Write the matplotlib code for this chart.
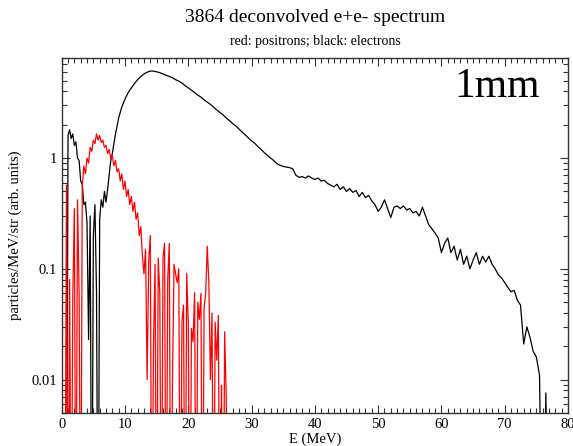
import numpy as np
import matplotlib
matplotlib.use("Agg")
import matplotlib.pyplot as plt
from matplotlib.ticker import MultipleLocator, LogLocator, NullFormatter

plt.rcParams['font.family'] = ['Liberation Serif', 'DejaVu Serif']

# --- data (0 = at/below zero, drawn off the bottom) ---
# electrons, fine bins 0.75 .. 8.75 MeV
e_low_E = np.arange(0.75, 8.76, 0.25)
e_low = [0.0, 1.6, 1.8, 1.5, 1.65, 1.3, 1.4, 1.0, 0.95, 0.62,
         0.58, 0.38, 0.40, 0.26, 0.023, 0.30, 0.0, 0.20, 0.38, 0.061,
         0.0, 0.28, 0.42, 0.36, 0.50, 0.40, 0.52, 0.70, 0.95, 1.10,
         1.35, 1.65, 1.95]
# electrons, 0.5 MeV bins 9 .. 77 MeV
e_high_E = np.arange(9.0, 77.01, 0.5)
e_high = [2.3, 2.9, 3.4, 3.9, 4.3, 4.7, 5.1, 5.45, 5.75, 5.95,
          6.1, 6.1, 6.0, 5.9, 5.75, 5.6, 5.45, 5.3, 5.1, 4.95,
          4.75, 4.5, 4.3, 4.1, 3.9, 3.7, 3.55, 3.35, 3.2, 3.05,
          2.88, 2.72, 2.58, 2.45, 2.3, 2.18, 2.05, 1.95, 1.83, 1.72,
          1.62, 1.52, 1.43, 1.36, 1.27, 1.20, 1.12, 1.06, 1.00, 0.95,
          0.89, 0.86, 0.84, 0.83, 0.82, 0.80, 0.70, 0.67, 0.68, 0.66,
          0.69, 0.66, 0.64, 0.66, 0.62, 0.63, 0.59, 0.57, 0.55, 0.58,
          0.52, 0.55, 0.50, 0.53, 0.49, 0.51, 0.45, 0.49, 0.44, 0.46,
          0.41, 0.38, 0.33, 0.36, 0.42, 0.35, 0.29, 0.36, 0.37, 0.35,
          0.37, 0.34, 0.35, 0.32, 0.33, 0.30, 0.36, 0.30, 0.25, 0.23,
          0.21, 0.19, 0.14, 0.17, 0.19, 0.14, 0.16, 0.12, 0.15, 0.11,
          0.13, 0.10, 0.12, 0.14, 0.11, 0.13, 0.115, 0.13, 0.11, 0.10,
          0.088, 0.083, 0.075, 0.068, 0.062, 0.064, 0.052, 0.047, 0.021, 0.030,
          0.024, 0.018, 0.016, 0.011, 0.0, 0.0076, 0.0]

# positrons, 0.25 MeV bins 0.5 .. 26.25 MeV
p_E = np.arange(0.5, 26.26, 0.25)
p_val = [0.0, 0.57, 0.0, 0.08, 0.0, 0.055, 0.35, 0.0, 0.42, 0.06,
         0.0, 0.55, 0.85, 0.72, 1.0, 0.9, 1.25, 1.15, 1.45, 1.35,
         1.65, 1.45, 1.6, 1.38, 1.45, 1.25, 1.3, 1.1, 1.2, 0.98,
         1.05, 0.85, 0.95, 0.75, 0.80, 0.62, 0.72, 0.52, 0.62, 0.45,
         0.52, 0.38, 0.45, 0.33, 0.40, 0.28, 0.32, 0.20, 0.24, 0.13,
         0.09, 0.15, 0.010, 0.12, 0.20, 0.0, 0.02, 0.11, 0.0, 0.125,
         0.06, 0.0, 0.125, 0.17, 0.0, 0.08, 0.17, 0.0, 0.0094, 0.11,
         0.09, 0.075, 0.10, 0.0, 0.033, 0.047, 0.0, 0.091, 0.033, 0.0,
         0.029, 0.022, 0.061, 0.0, 0.05, 0.035, 0.06, 0.0, 0.045, 0.06,
         0.16, 0.075, 0.010, 0.04, 0.0, 0.033, 0.015, 0.038, 0.0, 0.0089,
         0.0, 0.027, 0.007, 0.0]

elec_E = np.concatenate([e_low_E, e_high_E])
elec = np.concatenate([e_low, e_high])
floor = 1e-4  # zeros go off the bottom of the log axis

# --- Plotting ---
fig = plt.figure(figsize=(5.73, 4.46), dpi=100)
ax = fig.add_axes([61.7/573, 1-413/446, (568-61.7)/573, (413-58)/446])

ax.plot(elec_E, np.clip(elec, floor, None), color='black', lw=0.9)
ax.plot(p_E, np.clip(p_val, floor, None), color='red', lw=0.9)

ax.set_yscale('log')
ax.set_xlim(0, 80)
ax.set_ylim(0.005, 8)

ax.xaxis.set_major_locator(MultipleLocator(10))
ax.xaxis.set_minor_locator(MultipleLocator(1))
ax.set_yticks([0.01, 0.1, 1])
ax.set_yticklabels(["0.01", "0.1", "1"])
ax.yaxis.set_minor_locator(LogLocator(base=10, subs=np.arange(2, 10)))
ax.yaxis.set_minor_formatter(NullFormatter())
ax.tick_params(which='both', direction='in', top=True, right=True,
               labelsize=10.5, color='#333333')
ax.tick_params(which='major', length=6, width=0.8)
ax.tick_params(which='minor', length=3.5, width=0.8)
for s in ax.spines.values():
    s.set_linewidth(1.0)
    s.set_color('#333333')

ax.set_xlabel("E (MeV)", fontsize=10.5, labelpad=1)
ax.set_ylabel("particles/MeV/str (arb. units)", fontsize=10.5)
ax.yaxis.set_label_coords(-0.078, 0.5)

ax.text(0.945, 0.89, "1mm", transform=ax.transAxes, ha='right',
        va='baseline', fontsize=30)

fig.text(0.55, 1-17/446, "3864 deconvolved e+e- spectrum", ha='center',
         va='center', fontsize=14)
fig.text(0.55, 1-42/446, "red: positrons; black: electrons", ha='center',
         va='center', fontsize=10)

fig.savefig("out.png", dpi=100)
